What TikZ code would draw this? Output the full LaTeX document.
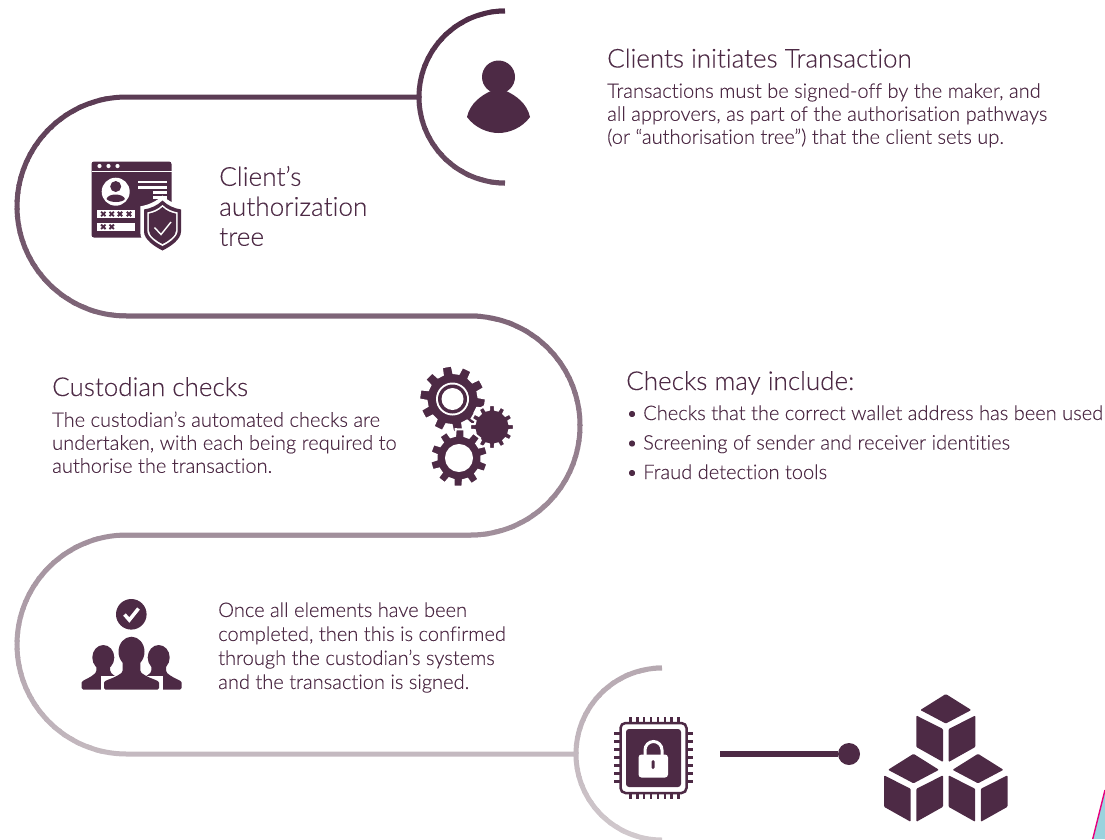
\documentclass[tikz,border=0pt]{standalone}
\usepackage{fontspec}
\setmainfont{Lato Light}[Ligatures=NoCommon,FakeBold=0.2]
\definecolor{ink}{HTML}{4D2A45}
\definecolor{ashen}{HTML}{D2CACE}
\definecolor{cornerblue}{HTML}{9AD3DE}
\definecolor{cornerpink}{HTML}{E6007E}
\tikzset{
    heading/.style={anchor=base west,inner sep=0pt,text=ink,font=\fontsize{26}{30}\selectfont},
    bodytext/.style={anchor=west,inner sep=0pt,text=ink,align=left,font=\fontsize{20.05}{23}\selectfont},
    checkline/.style={anchor=base west,inner sep=0pt,text=ink,font=\fontsize{20.05}{23}\selectfont},
    stepname/.style={anchor=west,inner sep=0pt,text=ink,align=left,font=\fontsize{26.2}{30}\selectfont},
    snakeline/.style={line width=5pt},
    gearfill/.style={fill=ink,draw=white,line width=2pt,even odd rule}
}
\newcommand{\snakepath}{
    (505,11) arc[start angle=270,end angle=90,radius=86]
    (419,97) -- (126.5,97) arc[start angle=270,end angle=90,radius=109.5]
    -- (470.5,316) arc[start angle=270,end angle=450,radius=109.5]
    -- (126.5,535) arc[start angle=270,end angle=90,radius=109.5]
    -- (577,754)
    (662,668) arc[start angle=270,end angle=90,radius=86]
}
% x, y, outer radius, root radius, teeth, turn, hole
\newcommand{\gearicon}[7]{
    \begin{scope}[shift={(#1,#2)}]
        \pgfmathsetmacro{\gearstep}{360/#5}
        \path[gearfill] (#6-0.33*\gearstep:#4)
            \foreach \t in {1,...,#5}{
                -- (#6+\t*\gearstep-1.33*\gearstep:#4)
                -- (#6+\t*\gearstep-1.24*\gearstep:#3)
                -- (#6+\t*\gearstep-0.76*\gearstep:#3)
                -- (#6+\t*\gearstep-0.67*\gearstep:#4)
            } -- cycle (0,0) circle[radius=#7];
    \end{scope}
}
\newcommand{\cubeicon}[2]{
    \begin{scope}[shift={(#1,#2)}]
        \fill[ink,rounded corners=1pt] (0,0) -- (25.5,16) -- (0,29.5) -- (-25.5,16) -- cycle;
        \fill[ink,rounded corners=1pt] (-29.5,21.5) -- (-2.8,35) -- (-2.8,68) -- (-29.5,53) -- cycle;
        \fill[ink,rounded corners=1pt] (29.5,21.5) -- (2.8,35) -- (2.8,68) -- (29.5,53) -- cycle;
    \end{scope}
}
\newcommand{\shieldpath}{
    (0,-25) .. controls (5,-20) and (12,-17) .. (18.5,-16) -- (18.5,6)
    .. controls (18.5,14) and (8,21) .. (0,25)
    .. controls (-8,21) and (-18.5,14) .. (-18.5,6) -- (-18.5,-16)
    .. controls (-12,-17) and (-5,-20) .. (0,-25) -- cycle
}
% x, head y, head rx, head ry, half width, neck y
\newcommand{\teamhead}[6]{
    \fill[ink] (#1,#2) ellipse[x radius=#3,y radius=#4];
    \fill[ink,rounded corners=1.5pt] (#1-#5,689.5) -- (#1-#5,684)
        .. controls (#1-#5,680) and (#1-0.65*#5,679) .. (#1-0.32*#5,#6)
        -- (#1-0.32*#5,#2) -- (#1+0.32*#5,#2) -- (#1+0.32*#5,#6)
        .. controls (#1+0.65*#5,679) and (#1+#5,680) .. (#1+#5,684)
        -- (#1+#5,689.5) -- cycle;
}
\begin{document}
\begin{tikzpicture}[x=1pt,y=-1pt]
    \useasboundingbox (0,0) rectangle (1105,839);
    \foreach \yy in {0,8,...,832}{
        \pgfmathsetmacro{\fadepct}{\yy/8.39}
        \begin{scope}
            \clip (0,\yy) rectangle (1105,\yy+9);
            \draw[snakeline,color=ashen!\fadepct!ink] \snakepath;
        \end{scope}
    }

    \fill[ink] (498.5,77) circle[radius=16.5];
    \fill[ink] (467,117) .. controls (475,128) and (488,133) .. (498.5,133)
        .. controls (509,133) and (522,128) .. (530,117)
        .. controls (527,103) and (515,95) .. (506,91) -- (491,91)
        .. controls (482,95) and (470,103) .. (467,117) -- cycle;
    \node[heading] (clienttitle) at (607,67.5) {Clients initiates Transaction};
    \node[bodytext] (clientbody) at (607,115.3) {Transactions must be signed-off by the maker, and\\all approvers, as part of the authorisation pathways\\(or “authorisation tree”) that the client sets up.};

    \fill[ink,rounded corners=2.5pt] (91.5,161.5) rectangle (171.5,237.5);
    \fill[white] (91.5,170.8) rectangle (171.5,172.2);
    \foreach \xx in {99.5,108.5,117.5}{
        \fill[white] (\xx,166) circle[radius=2.1];
    }
    \fill[white] (115.7,191.7) circle[radius=14];
    \fill[ink] (115.7,186.5) circle[radius=5.5];
    \fill[ink] (106.5,199) .. controls (108,193) and (123,193) .. (125,199) .. controls (122,203) and (110,203) .. (106.5,199) -- cycle;
    \fill[white] (138,180.5) rectangle (167,183);
    \fill[white] (138,186) rectangle (167,188.5);
    \fill[white] (152.5,191.3) rectangle (167,193.8);
    \fill[white] (152.5,196.2) rectangle (167,198.7);
    \fill[white] (96.7,210) rectangle (135,218.3);
    \fill[white] (96.7,222.7) rectangle (135,231);
    \foreach \xx/\yy in {103.3/214,111.7/214,120/214,129/214,103.3/226.8,111.7/226.8}{
        \draw[ink,line width=1.8pt] (\xx-2.2,\yy-2.2) -- (\xx+2.2,\yy+2.2) (\xx-2.2,\yy+2.2) -- (\xx+2.2,\yy-2.2);
    }
    \begin{scope}[shift={(162.5,225.5)}]
        \fill[white,scale=1.2] \shieldpath;
        \fill[ink] \shieldpath;
        \fill[white,scale=0.82] \shieldpath;
        \fill[ink,scale=0.74] \shieldpath;
        \draw[white,line width=1.4pt] (-8,2) -- (-1.5,9) -- (8.5,-3.5);
    \end{scope}
    \node[stepname] (treename) at (219,206) {Client’s\\authorization\\tree};

    \node[heading] (custodiantitle) at (52,396) {Custodian checks};
    \node[bodytext] (custodianbody) at (52,442.3) {The custodian’s automated checks are\\undertaken, with each being required to\\authorise the transaction.};
    \gearicon{452.5}{399}{33.5}{26}{10}{8}{0}
    \fill[white] (452.5,399) circle[radius=16.5];
    \fill[ink] (452.5,399) circle[radius=14.5];
    \fill[white] (452.5,399) circle[radius=11];
    \gearicon{492}{427}{22}{17.5}{12}{0}{0}
    \gearicon{459}{458}{29}{22.5}{10}{20}{13}

    \node[heading] (checkstitle) at (626,390) {Checks may include:};
    \node[checkline] (checkone) at (626,420) {\makebox[17pt][l]{•}Checks that the correct wallet address has been used};
    \node[checkline] (checktwo) at (626,449.5) {\makebox[17pt][l]{•}Screening of sender and receiver identities};
    \node[checkline] (checkthree) at (626,479) {\makebox[17pt][l]{•}Fraud detection tools};

    \fill[ink] (131.3,614.3) circle[radius=15.3];
    \draw[white,line width=3.5pt] (124.5,614.5) -- (129.3,620) -- (138.5,608.5);
    \teamhead{103.3}{657.5}{11}{12.5}{21.6}{672}
    \teamhead{158.7}{657.5}{11}{12.5}{23}{672}
    \fill[white] (131.3,651.5) ellipse[x radius=15.5,y radius=17.5];
    \fill[white] (101,691) rectangle (162.5,676);
    \fill[white] (117,664) rectangle (145,680);
    \teamhead{131.5}{651.7}{13}{15}{27.5}{672}
    \node[bodytext,font=\fontsize{20.05}{24}\selectfont] (confirmbody) at (218,647.5) {Once all elements have been\\completed, then this is confirmed\\through the custodian’s systems\\and the transaction is signed.};

    \draw[ink,line width=2.5pt,rounded corners=5pt] (620.5,723) rectangle (686.5,793);
    \fill[ink,rounded corners=3pt] (626,729) rectangle (681,787);
    \foreach \xx in {0,1,...,7}{
        \fill[ink] (629+\xx*6.9,717) rectangle ++(2.6,5.5);
        \fill[ink] (629+\xx*6.9,793.5) rectangle ++(2.6,5.5);
    }
    \foreach \yy in {0,1,...,6}{
        \fill[ink] (614,732+\yy*8) rectangle ++(6,2.6);
        \fill[ink] (687,732+\yy*8) rectangle ++(6,2.6);
    }
    \draw[white,line width=3pt] (645,756) -- (645,750) arc[start angle=180,end angle=360,radius=8.5] -- (662,756);
    \fill[white,rounded corners=3pt] (638.5,754.5) rectangle (668,777.5);
    \fill[ink,rounded corners=1.4pt] (651.6,760) rectangle (654.6,769);

    \coordinate (chainstart) at (720,754);
    \node[circle,fill=ink,inner sep=0pt,minimum size=22pt] (chaindot) at (849,754) {};
    \draw[ink,line width=5.5pt] (chainstart) -- (chaindot);
    \cubeicon{945.8}{694}
    \cubeicon{913.5}{753.8}
    \cubeicon{978}{753.8}

    \fill[cornerblue] (1105,791) -- (1092.7,839) -- (1105,839) -- cycle;
    \draw[cornerpink,line width=1.4pt] (1105,790) -- (1092.7,839);
\end{tikzpicture}
\end{document}
